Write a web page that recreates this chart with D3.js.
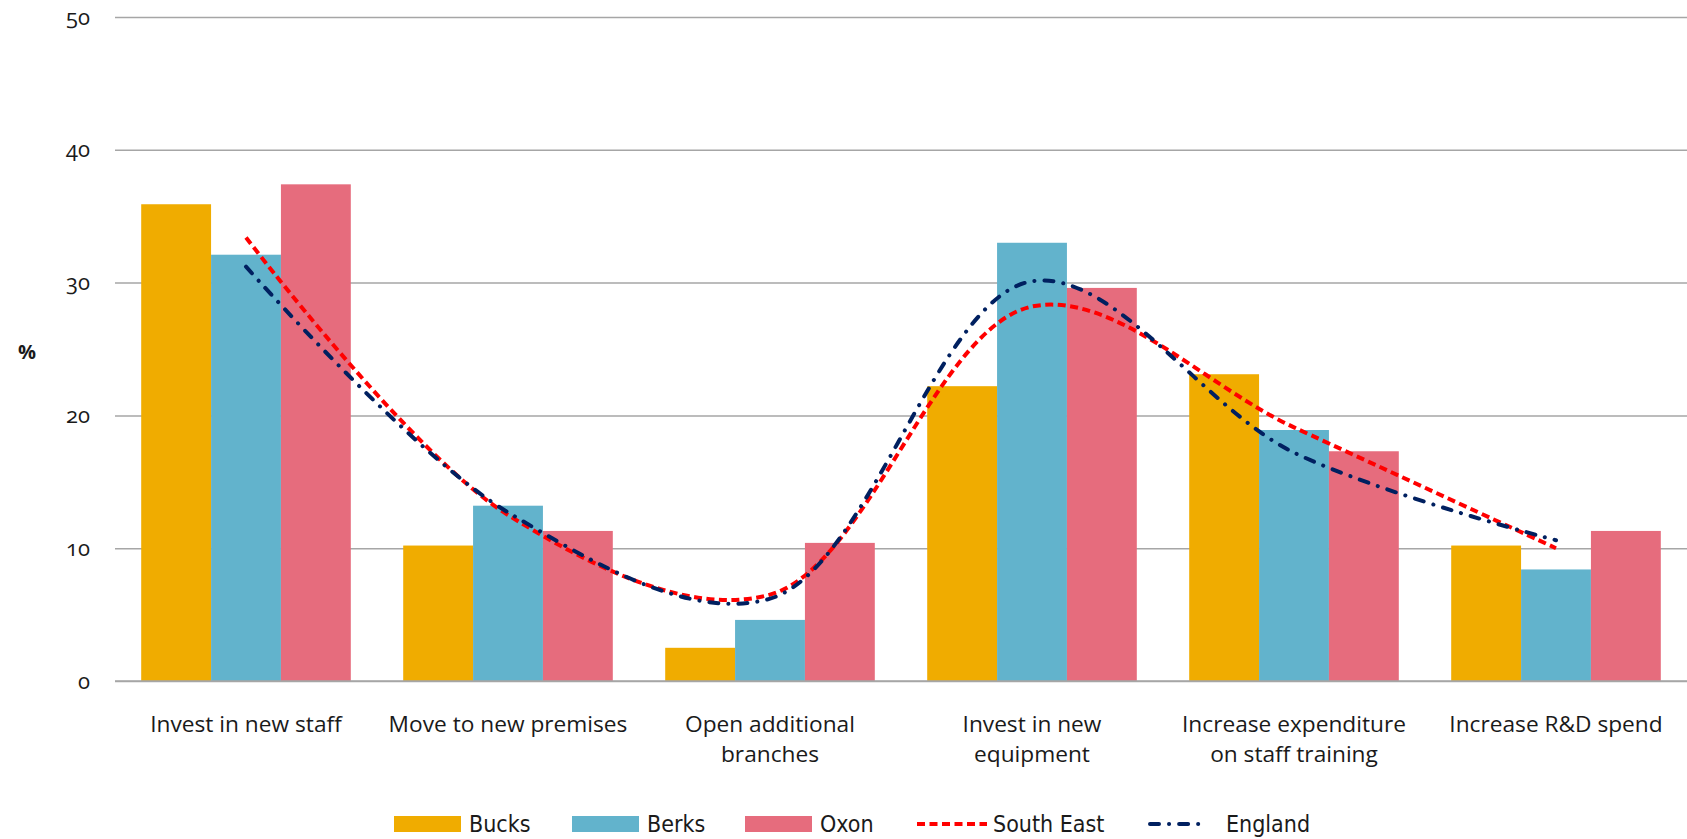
<!DOCTYPE html>
<html>
<head>
<meta charset="utf-8">
<script src="https://cdn.jsdelivr.net/npm/d3@7"></script>
<style>
  body { margin: 0; background: #fff; }
  svg text { fill: #1a1a1a; }
  .ytick text { font-family: "Open Sans", sans-serif; font-size: 22px; font-feature-settings: "onum"; }
  .catLabel { font-family: "Open Sans", sans-serif; font-size: 22.7px; }
  .legendLabel { font-family: "Liberation Sans Narrow", "DejaVu Sans Condensed", sans-serif; font-size: 23px; font-stretch: condensed; }
</style>
</head>
<body>
<svg id="chart"></svg>
<script>
/* Categories (line breaks as in the original labels) */
let categories = [
    "Invest in new staff",
    "Move to new premises",
    "Open additional\nbranches",
    "Invest in new\nequipment",
    "Increase expenditure\non staff training",
    "Increase R&D spend"
]

/* Bar series, % */
let bucks = [35.9, 10.2, 2.5, 22.2, 23.1, 10.2]
let berks = [32.1, 13.2, 4.6, 33.0, 18.9, 8.4]
let oxon = [37.4, 11.3, 10.4, 29.6, 17.3, 11.3]

/* Line series, % */
let southEast = [33.4, 12.5, 6.5, 28.2, 19.1, 10.0]
let england = [31.2, 12.7, 6.2, 30.1, 17.2, 10.6]

let yTicks = [0, 10, 20, 30, 40, 50]

let barSeries = [
    { name: "Bucks", values: bucks, color: "#f0ac00" },
    { name: "Berks", values: berks, color: "#62b3cc" },
    { name: "Oxon", values: oxon, color: "#e66c7d" }
]
let lineSeries = [
    { name: "South East", values: southEast, color: "#ff0000", dash: "8,4.5", cap: "butt" },
    { name: "England", values: england, color: "#002060", dash: "9,10,0.1,10", cap: "round" }
]

let width = 1687
let height = 839
let plot = { left: 115, right: 1687, top: 17, bottom: 681 }

let svg = d3.select("svg#chart")
    .attr("width", width)
    .attr("height", height)

let xScale = d3.scaleBand()
    .domain(categories)
    .range([plot.left, plot.right])
    .paddingInner(0.2)
    .paddingOuter(0.1)

let xInner = d3.scaleBand()
    .domain(barSeries.map(s => s.name))
    .range([0, xScale.bandwidth()])

let yScale = d3.scaleLinear()
    .domain([0, 50])
    .range([plot.bottom, plot.top])

/* gridlines + y labels */
let yAxis = d3.axisLeft(yScale)
    .tickValues(yTicks)
    .tickSize(-(plot.right - plot.left))
    .tickPadding(25)
    .tickFormat(d3.format("d"))

let yAxisG = svg.append("g")
    .attr("class", "ytick")
    .attr("transform", "translate(" + plot.left + ",0)")
    .call(yAxis)
yAxisG.select("path.domain").remove()
yAxisG.selectAll(".tick line").attr("stroke", "#a6a6a6").attr("stroke-width", 1.5)
yAxisG.selectAll(".tick text").attr("fill", "#1a1a1a")

/* bars */
barSeries.forEach(s => {
    svg.append("g").selectAll("rect")
        .data(s.values)
        .join("rect")
        .attr("x", (d, i) => xScale(categories[i]) + xInner(s.name))
        .attr("y", d => yScale(d))
        .attr("width", xInner.bandwidth())
        .attr("height", d => yScale(0) - yScale(d))
        .attr("fill", s.color)
})

/* baseline over bars */
svg.append("line")
    .attr("x1", plot.left).attr("x2", plot.right)
    .attr("y1", yScale(0)).attr("y2", yScale(0))
    .attr("stroke", "#a6a6a6").attr("stroke-width", 1.5)

/* smoothed lines */
let line = d3.line()
    .x((d, i) => xScale(categories[i]) + xScale.bandwidth() / 2)
    .y(d => yScale(d))
    .curve(d3.curveCatmullRom.alpha(0.5))

lineSeries.forEach(s => {
    svg.append("path")
        .datum(s.values)
        .attr("d", line)
        .attr("fill", "none")
        .attr("stroke", s.color)
        .attr("stroke-width", 4)
        .attr("stroke-dasharray", s.dash)
        .attr("stroke-linecap", s.cap)
})

/* y axis title */
svg.append("text")
    .attr("x", 27).attr("y", 359)
    .attr("text-anchor", "middle")
    .style("font-family", "'Open Sans', sans-serif")
    .style("font-size", "20px")
    .style("font-weight", "bold")
    .text("%")

/* category labels */
categories.forEach(c => {
    let lines = c.split("\n")
    let t = svg.append("text")
        .attr("class", "catLabel")
        .attr("text-anchor", "middle")
        .attr("x", xScale(c) + xScale.bandwidth() / 2)
        .attr("y", 732)
    lines.forEach((l, j) => {
        t.append("tspan")
            .attr("x", xScale(c) + xScale.bandwidth() / 2)
            .attr("dy", j == 0 ? 0 : 30)
            .text(l)
    })
})

/* legend */
let legendItems = [
    { name: "Bucks", type: "bar", x: 394, color: "#f0ac00" },
    { name: "Berks", type: "bar", x: 572, color: "#62b3cc" },
    { name: "Oxon", type: "bar", x: 745, color: "#e66c7d" },
    { name: "South East", type: "line", x: 917, series: lineSeries[0] },
    { name: "England", type: "line", x: 1150, series: lineSeries[1] }
]
let legendY = 824
legendItems.forEach(item => {
    let g = svg.append("g").attr("transform", "translate(" + item.x + "," + legendY + ")")
    if (item.type == "bar") {
        g.append("rect")
            .attr("x", 0).attr("y", -8)
            .attr("width", 67).attr("height", 16)
            .attr("fill", item.color)
        g.append("text").attr("class", "legendLabel")
            .attr("x", 75).attr("y", 8).text(item.name)
    } else {
        g.append("line")
            .attr("x1", 0).attr("x2", item.name == "England" ? 56 : 70)
            .attr("y1", 0).attr("y2", 0)
            .attr("stroke", item.series.color)
            .attr("stroke-width", 4)
            .attr("stroke-dasharray", item.series.dash)
            .attr("stroke-linecap", item.series.cap)
        g.append("text").attr("class", "legendLabel")
            .attr("x", 76).attr("y", 8).text(item.name)
    }
})
</script>
</body>
</html>
